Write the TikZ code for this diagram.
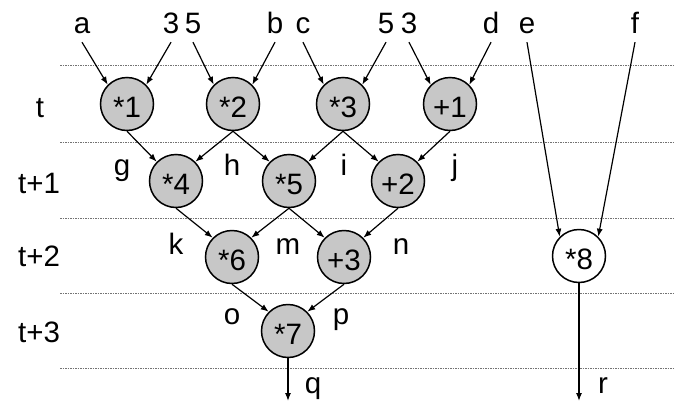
\documentclass[tikz,border=0pt]{standalone}
\usepackage{fontspec}
\setmainfont{Liberation Sans}
\usetikzlibrary{arrows.meta}
\begin{document}
\begin{tikzpicture}[x=1pt,y=-1pt,
  bigfont/.style={font=\fontsize{29.5}{29.5}\selectfont},
  op/.style={circle,draw=black,line width=1.5pt,fill=black!22,minimum size=53pt,inner sep=0pt,bigfont,text height=26pt,text depth=0pt},
  opw/.style={op,fill=white},
  lab/.style={anchor=base,inner sep=0pt,bigfont},
  inp/.style={lab,text depth=9pt},
  arr/.style={-{Latex[length=8pt,width=6pt]},line width=1.2pt},
  sep/.style={draw=black!55,line width=0.8pt,dash pattern=on 1.5pt off 1pt}
]
\useasboundingbox (0,0) rectangle (686,402);
% separators
\foreach \yy in {65,142,218,293,368}
  \draw[sep] (60,\yy) -- (675,\yy);
% row labels
\node[lab] (rt)  at (40,117) {t};
\node[lab] (rt1) at (39,193) {t+1};
\node[lab] (rt2) at (39,266) {t+2};
\node[lab] (rt3) at (39,342) {t+3};
% inputs
\node[inp] (ia)  at (82,33)  {a};
\node[inp] (i3a) at (171,33) {3};
\node[inp] (i5a) at (193,33) {5};
\node[inp] (ib)  at (275,33) {b};
\node[inp] (ic)  at (303,33) {c};
\node[inp] (i5b) at (386,33) {5};
\node[inp] (i3b) at (409,33) {3};
\node[inp] (id)  at (491,33) {d};
\node[inp] (ie)  at (527,33) {e};
\node[inp] (if)  at (635,33) {f};
% operations
\node[op] (n1) at (127,104) {*1};
\node[op] (n2) at (233,104) {*2};
\node[op] (n3) at (343,104) {*3};
\node[op] (p1) at (450,104) {+1};
\node[op] (n4) at (176,181) {*4};
\node[op] (n5) at (289,181) {*5};
\node[op] (p2) at (398,181) {+2};
\node[op] (n6) at (232,257) {*6};
\node[op] (p3) at (344,257) {+3};
\node[op] (n7) at (288,331) {*7};
\node[opw] (n8) at (579,256) {*8};
% intermediate labels
\node[lab] (lg) at (122,175) {g};
\node[lab] (lh) at (232,175) {h};
\node[lab] (li) at (344,175) {i};
\node[lab] (lj) at (455,175) {j};
\node[lab] (lk) at (176,254) {k};
\node[lab] (lm) at (288,254) {m};
\node[lab] (ln) at (401,254) {n};
\node[lab] (lo) at (232,324) {o};
\node[lab] (lp) at (341,324) {p};
\node[lab] (lq) at (313,393) {q};
\node[lab] (lr) at (603,393) {r};
\coordinate (qend) at (288,401);
\coordinate (rend) at (579,401);
% input arrows
\draw[arr] (ia.south) -- (n1.135);
\draw[arr] (i3a.south) -- (n1.45);
\draw[arr] (i5a.south) -- (n2.135);
\draw[arr] (ib.south) -- (n2.45);
\draw[arr] (ic.south) -- (n3.135);
\draw[arr] (i5b.south) -- (n3.45);
\draw[arr] (i3b.south) -- (p1.135);
\draw[arr] (id.south) -- (p1.45);
\draw[arr] (ie.south) -- (n8.135);
\draw[arr] (if.south) -- (n8.45);
% internal arrows
\draw[arr] (n1.south) -- (n4.135);
\draw[arr] (n2.south) -- (n4.45);
\draw[arr] (n2.south) -- (n5.135);
\draw[arr] (n3.south) -- (n5.45);
\draw[arr] (n3.south) -- (p2.135);
\draw[arr] (p1.south) -- (p2.45);
\draw[arr] (n4.south) -- (n6.135);
\draw[arr] (n5.south) -- (n6.45);
\draw[arr] (n5.south) -- (p3.135);
\draw[arr] (p2.south) -- (p3.45);
\draw[arr] (n6.south) -- (n7.135);
\draw[arr] (p3.south) -- (n7.45);
\draw[arr] (n7.south) -- (qend);
\draw[arr] (n8.south) -- (rend);
\end{tikzpicture}
\end{document}
